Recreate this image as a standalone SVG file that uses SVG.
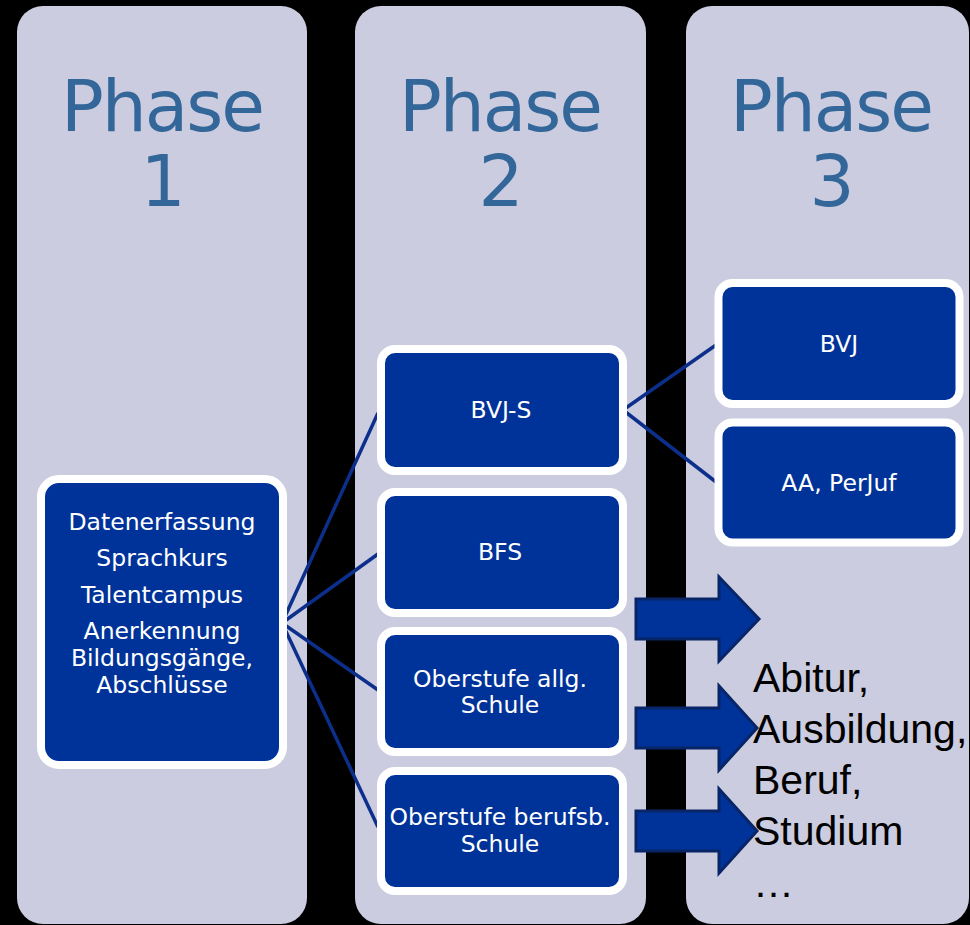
<svg xmlns="http://www.w3.org/2000/svg" width="970" height="925" viewBox="0 0 970 925">
<style>
.col{fill:#CBCCDF}
.title{font-family:"DejaVu Sans",Verdana,sans-serif;font-size:71px;fill:#336699;text-anchor:middle;letter-spacing:-2px}
.node{fill:#003399;stroke:#FFFFFF;stroke-width:8}
.lbl{font-family:"DejaVu Sans",Verdana,sans-serif;font-size:23.5px;fill:#FFFFFF;text-anchor:middle}
.conn{stroke:#0D2F8C;stroke-width:3.5;fill:none}
.arrow{fill:#003399;stroke:#082568;stroke-width:3}
.out{font-family:"Liberation Sans",Arial,sans-serif;font-size:41px;fill:#000000}
</style>
<rect x="0" y="0" width="970" height="925" fill="#000000"/>
<g id="columns">
<rect class="col" x="17" y="6" width="290" height="918" rx="26"/>
<rect class="col" x="355" y="6" width="291" height="918" rx="26"/>
<rect class="col" x="686" y="6" width="283" height="918" rx="26"/>
<text class="title" x="162" y="131">Phase</text>
<text class="title" x="162" y="206">1</text>
<text class="title" x="500" y="131">Phase</text>
<text class="title" x="500" y="206">2</text>
<text class="title" x="831" y="131">Phase</text>
<text class="title" x="831" y="206">3</text>
</g>
<g id="connectors">
<line class="conn" x1="282" y1="623" x2="378" y2="413"/>
<line class="conn" x1="282" y1="623" x2="378" y2="554"/>
<line class="conn" x1="282" y1="623" x2="378" y2="690"/>
<line class="conn" x1="282" y1="623" x2="378" y2="827"/>
<line class="conn" x1="623" y1="410" x2="716" y2="345"/>
<line class="conn" x1="623" y1="410" x2="716" y2="482"/>
</g>
<g id="phase1-node">
<rect class="node" x="41" y="479" width="242" height="286" rx="18"/>
<text class="lbl" x="162" y="530">Datenerfassung</text>
<text class="lbl" x="162" y="566">Sprachkurs</text>
<text class="lbl" x="162" y="603">Talentcampus</text>
<text class="lbl" x="162" y="639">Anerkennung</text>
<text class="lbl" x="162" y="666">Bildungsgänge,</text>
<text class="lbl" x="162" y="693">Abschlüsse</text>
</g>
<g id="bvj-s">
<rect class="node" x="381" y="349" width="242" height="122" rx="14"/>
<text class="lbl" x="501" y="418">BVJ-S</text>
</g>
<g id="bfs">
<rect class="node" x="381" y="492" width="242" height="121" rx="14"/>
<text class="lbl" x="500" y="560">BFS</text>
</g>
<g id="oberstufe-allg">
<rect class="node" x="381" y="631" width="242" height="121" rx="14"/>
<text class="lbl" x="500" y="687">Oberstufe allg.</text>
<text class="lbl" x="500" y="713">Schule</text>
</g>
<g id="oberstufe-berufsb">
<rect class="node" x="381" y="771" width="242" height="120" rx="14"/>
<text class="lbl" x="500" y="825">Oberstufe berufsb.</text>
<text class="lbl" x="500" y="852">Schule</text>
</g>
<g id="bvj">
<rect class="node" x="718.5" y="283" width="241" height="121" rx="14"/>
<text class="lbl" x="839" y="352">BVJ</text>
</g>
<g id="aa-perjuf">
<rect class="node" x="718.5" y="422.5" width="241" height="120" rx="14"/>
<text class="lbl" x="839" y="491">AA, PerJuf</text>
</g>
<g id="arrows">
<polygon class="arrow" points="636,599 719,599 719,577 759,619 719,661 719,639 636,639"/>
<polygon class="arrow" points="636,708 719,708 719,686 757,728 719,770 719,748 636,748"/>
<polygon class="arrow" points="636,811 719,811 719,789 757,831 719,873 719,851 636,851"/>
</g>
<g id="outcome">
<text class="out" x="753" y="692">Abitur,</text>
<text class="out" x="753" y="743">Ausbildung,</text>
<text class="out" x="753" y="794">Beruf,</text>
<text class="out" x="753" y="845">Studium</text>
<text class="out" x="753" y="897">…</text>
</g>
</svg>
